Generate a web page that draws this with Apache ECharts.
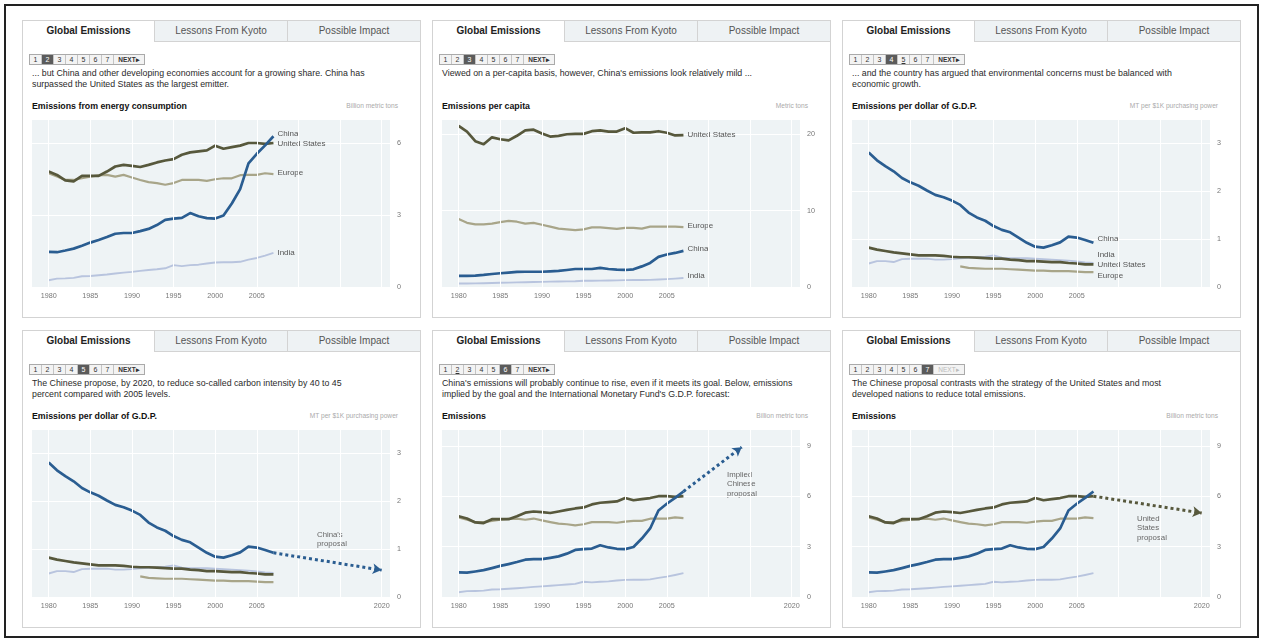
<!DOCTYPE html>
<html><head><meta charset="utf-8">
<script src="https://cdn.jsdelivr.net/npm/echarts@6/dist/echarts.min.js"></script>
<style>
html,body{margin:0;padding:0;background:#fff;}
body{width:1263px;height:642px;position:relative;overflow:hidden;font-family:"Liberation Sans",Arial,sans-serif;}
#frame{position:absolute;left:4px;top:4px;width:1255px;height:634px;border:2px solid #222;box-sizing:border-box;}
.panel{position:absolute;width:399px;height:298px;}
.body{position:absolute;left:0;top:21px;width:399px;height:277px;border:1px solid #d3d3d3;border-top:none;box-sizing:border-box;}
.tab{position:absolute;top:0;height:22px;box-sizing:border-box;border:1px solid #d3d3d3;border-left:none;font-size:10px;line-height:20px;text-align:center;color:#555;background:#eef2f4;}
.tab.first{border-left:1px solid #d3d3d3;}
.tab.active{background:#fff;border-bottom:none;color:#222;font-weight:bold;}
.pager{position:absolute;left:7px;top:34px;height:11px;border:1px solid #aaa;box-sizing:border-box;display:flex;background:#f3f3f3;}
.pager span{display:block;width:11px;height:9px;border-right:1px solid #c4c4c4;font-size:7px;line-height:9px;text-align:center;color:#333;}
.pager span.on{background:#5b5b5b;color:#fff;}
.pager span.u{text-decoration:underline;}
.pager span.next{width:30px;border-right:none;font-weight:bold;font-size:6.5px;}
.pager span.dis{color:#bbb;font-weight:normal;}
.txt{position:absolute;left:10px;top:48px;font-size:8.8px;line-height:10.5px;color:#2a2a2a;white-space:nowrap;}
.ttl{position:absolute;left:10px;top:80px;font-size:8.8px;line-height:12px;font-weight:bold;color:#111;}
.unit{position:absolute;right:23px;top:81px;font-size:6.6px;line-height:10px;color:#aaa;}
.chart{position:absolute;left:0;top:90px;width:399px;height:200px;}
</style></head>
<body>
<div id="frame"></div>
<div id="root"></div>
<script>
const years = [1980,1981,1982,1983,1984,1985,1986,1987,1988,1989,1990,1991,1992,1993,1994,1995,1996,1997,1998,1999,2000,2001,2002,2003,2004,2005,2006,2007];
const tabNames = ["Global Emissions","Lessons From Kyoto","Possible Impact"];
const pageLabels = ["1","2","3","4","5","6","7"];

// Emissions from energy consumption (billion metric tons)
const emChina  = [1.46,1.45,1.52,1.6,1.72,1.85,1.96,2.08,2.22,2.25,2.25,2.33,2.42,2.58,2.8,2.85,2.88,3.08,2.95,2.87,2.85,2.98,3.48,4.08,5.15,5.55,5.9,6.28];
const emUS     = [4.81,4.67,4.44,4.4,4.63,4.63,4.63,4.81,5.02,5.09,5.05,5.0,5.09,5.19,5.27,5.33,5.51,5.61,5.65,5.69,5.89,5.76,5.83,5.89,6.0,6.0,5.96,6.0];
const emEurope = [4.74,4.6,4.46,4.46,4.53,4.6,4.65,4.67,4.6,4.67,4.56,4.46,4.37,4.33,4.26,4.33,4.46,4.46,4.46,4.42,4.49,4.53,4.53,4.66,4.67,4.67,4.74,4.7];
const emIndia  = [0.28,0.35,0.36,0.38,0.45,0.46,0.49,0.52,0.56,0.6,0.63,0.67,0.71,0.74,0.78,0.91,0.87,0.91,0.93,0.98,1.02,1.03,1.03,1.05,1.14,1.21,1.31,1.42];

// Emissions per capita (metric tons)
const pcUS     = [21.1,20.35,19.1,18.7,19.6,19.35,19.2,19.8,20.5,20.6,20.1,19.7,19.8,20.0,20.05,20.05,20.4,20.5,20.35,20.35,20.8,20.2,20.25,20.25,20.4,20.2,19.85,19.9];
const pcEurope = [8.9,8.4,8.2,8.2,8.3,8.5,8.65,8.55,8.3,8.4,8.15,7.9,7.65,7.55,7.45,7.55,7.8,7.8,7.7,7.6,7.75,7.75,7.65,7.9,7.9,7.9,7.9,7.85];
const pcChina  = [1.45,1.45,1.5,1.58,1.7,1.8,1.88,1.97,2.0,2.0,2.0,2.05,2.1,2.23,2.36,2.36,2.36,2.5,2.36,2.28,2.23,2.32,2.7,3.15,3.94,4.25,4.46,4.73];
const pcIndia  = [0.45,0.46,0.48,0.5,0.52,0.55,0.57,0.6,0.62,0.65,0.67,0.7,0.72,0.74,0.76,0.82,0.81,0.83,0.85,0.87,0.9,0.91,0.91,0.93,0.98,1.03,1.1,1.18];

// Emissions per dollar of GDP (MT per $1K purchasing power)
const gdpChina  = [2.8,2.64,2.52,2.41,2.27,2.18,2.11,2.01,1.92,1.87,1.8,1.71,1.55,1.45,1.38,1.27,1.19,1.14,1.03,0.92,0.84,0.82,0.87,0.93,1.05,1.03,0.98,0.92];
const gdpUS     = [0.82,0.78,0.75,0.72,0.7,0.68,0.66,0.66,0.66,0.65,0.63,0.62,0.62,0.61,0.6,0.59,0.59,0.57,0.56,0.54,0.54,0.53,0.52,0.52,0.5,0.49,0.47,0.47];
const gdpEurope = [null,null,null,null,null,null,null,null,null,null,null,0.43,0.4,0.39,0.38,0.38,0.38,0.37,0.36,0.35,0.34,0.34,0.33,0.33,0.33,0.32,0.31,0.31];
const gdpIndia  = [0.49,0.54,0.54,0.52,0.58,0.59,0.59,0.59,0.57,0.57,0.58,0.6,0.61,0.62,0.63,0.66,0.61,0.6,0.6,0.6,0.59,0.58,0.57,0.56,0.55,0.53,0.51,0.5];

// Projections
const chinaIntensityProposal = [[2007,0.92],[2020,0.56]];
const chinaImpliedProposal   = [[2007,6.28],[2014,8.92]];
const usProposal             = [[2007,6.0],[2020,5.0]];

// Axis tick labels
const xLabelsHist = [1980,1985,1990,1995,2000,2005];
const xLabelsProj = [1980,1985,1990,1995,2000,2005,2020];
const xGridLines  = [1980,1985,1990,1995,2000,2005,2010,2015,2020];
const yLabelsEm  = [0,3,6];
const yLabelsEm9 = [0,3,6,9];
const yLabelsPc  = [0,10,20];
const yLabelsGdp = [0,1,2,3];

const C = {China:'#2a5d91', US:'#57583c', Europe:'#a8a589', India:'#b8c4de'};

const panels = [
 {x:22,y:20,page:2,text:"... but China and other developing economies account for a growing share. China has<br>surpassed the United States as the largest emitter.",
  title:"Emissions from energy consumption",unit:"Billion metric tons",yMax:7,yInt:3,yLabels:yLabelsEm,xLabels:xLabelsHist,labels:true,
  lines:[["India",emIndia,[0,0]],["Europe",emEurope,[0,-1]],["United States",emUS,[0,1]],["China",emChina,[0,-2]]]},
 {x:432,y:20,page:3,text:"Viewed on a per-capita basis, however, China's emissions look relatively mild ...",
  title:"Emissions per capita",unit:"Metric tons",yMax:22,yInt:10,yLabels:yLabelsPc,xLabels:xLabelsHist,labels:true,
  lines:[["India",pcIndia,[0,-2]],["Europe",pcEurope,[0,-1]],["United States",pcUS,[0,0]],["China",pcChina,[0,-2]]]},
 {x:842,y:20,page:4,under:5,text:"... and the country has argued that environmental concerns must be balanced with<br>economic growth.",
  title:"Emissions per dollar of G.D.P.",unit:"MT per $1K purchasing power",yMax:3.5,yInt:1,yLabels:yLabelsGdp,xLabels:xLabelsHist,labels:true,
  lines:[["India",gdpIndia,[0,-8]],["Europe",gdpEurope,[0,4]],["United States",gdpUS,[0,0]],["China",gdpChina,[0,-4]]]},
 {x:22,y:330,page:5,text:"The Chinese propose, by 2020, to reduce so-called carbon intensity by 40 to 45<br>percent compared with 2005 levels.",
  title:"Emissions per dollar of G.D.P.",unit:"MT per $1K purchasing power",yMax:3.5,yInt:1,yLabels:yLabelsGdp,xLabels:xLabelsProj,labels:false,
  lines:[["India",gdpIndia],["Europe",gdpEurope],["United States",gdpUS],["China",gdpChina]],
  proj:{data:chinaIntensityProposal,color:C.China},note:{text:"China's\nproposal",top:110}},
 {x:432,y:330,page:6,under:2,text:"China's emissions will probably continue to rise, even if it meets its goal. Below, emissions<br>implied by the goal and the International Monetary Fund's G.D.P. forecast:",
  title:"Emissions",unit:"Billion metric tons",yMax:10,yInt:3,yLabels:yLabelsEm9,xLabels:xLabelsProj,labels:false,
  lines:[["India",emIndia],["Europe",emEurope],["United States",emUS],["China",emChina]],
  proj:{data:chinaImpliedProposal,color:C.China},note:{text:"Implied\nChinese\nproposal",top:50}},
 {x:842,y:330,page:7,last:true,text:"The Chinese proposal contrasts with the strategy of the United States and most<br>developed nations to reduce total emissions.",
  title:"Emissions",unit:"Billion metric tons",yMax:10,yInt:3,yLabels:yLabelsEm9,xLabels:xLabelsProj,labels:false,
  lines:[["India",emIndia],["Europe",emEurope],["United States",emUS],["China",emChina]],
  proj:{data:usProposal,color:C.US},note:{text:"United\nStates\nproposal",top:94}}
];

const colorOf = n => n==="United States"?C.US:C[n];
const widthOf = n => (n==="China"||n==="United States")?2.7:(n==="Europe"?2.2:1.9);

const root = document.getElementById('root');
panels.forEach((p,idx)=>{
  const d = document.createElement('div');
  d.className='panel'; d.style.left=p.x+'px'; d.style.top=p.y+'px';
  let h = '';
  h += '<div class="body"></div>';
  const tw=[133,133,133];
  let lx=0;
  tabNames.forEach((t,i)=>{
    h += `<div class="tab${i===0?' active first':''}" style="left:${lx}px;width:${tw[i]}px">${t}</div>`;
    lx+=tw[i];
  });
  h += '<div class="pager">';
  pageLabels.forEach(pl=>{
    const n=+pl;
    h += `<span class="${n===p.page?'on':''}${n===p.under?' u':''}">${pl}</span>`;
  });
  h += `<span class="next${p.last?' dis':''}">NEXT&#9656;</span></div>`;
  h += `<div class="txt">${p.text}</div>`;
  h += `<div class="ttl">${p.title}</div><div class="unit">${p.unit}</div>`;
  h += `<div class="chart" id="c${idx}"></div>`;
  d.innerHTML=h;
  root.appendChild(d);

  const chart = echarts.init(document.getElementById('c'+idx), null, {renderer:'canvas'});
  const series = [];
  series.push({type:'line',data:[[1978,null]],symbol:'none',silent:true,z:1,
    markLine:{silent:true,symbol:'none',animation:false,label:{show:false},
      lineStyle:{color:'#ffffff',width:1,type:'solid'},data:xGridLines.map(v=>({xAxis:v}))}});
  p.lines.forEach(([name,vals,off])=>{
    const col = colorOf(name);
    series.push({type:'line',name:name,data:years.map((y,i)=>[y,vals[i]]),symbol:'none',showSymbol:false,
      silent:true,z:3,lineStyle:{color:col,width:widthOf(name),join:'round'},itemStyle:{color:col},
      endLabel:{show:p.labels,formatter:'{a}',color:'#555',fontSize:8,distance:4,offset:off||[0,0],
        fontFamily:'"Liberation Sans", Arial, sans-serif'}});
  });
  if(p.proj){
    series.push({type:'line',data:[[1978,null]],symbol:'none',silent:true,z:4,
      markLine:{silent:true,animation:false,symbol:['none','arrow'],symbolSize:[8,9],label:{show:false},
        lineStyle:{color:p.proj.color,width:3,type:'dotted'},itemStyle:{color:p.proj.color},
        data:[[{coord:p.proj.data[0]},{coord:p.proj.data[1]}]]}});
  }
  const opt = {
    animation:false,
    grid:{left:10,top:9,width:358,height:168,show:true,backgroundColor:'#eef3f5',borderWidth:0},
    xAxis:{type:'value',min:1978,max:2021,interval:1,axisLine:{show:false},axisTick:{show:false},splitLine:{show:false},
      axisLabel:{color:'#777',fontSize:7.2,margin:6,hideOverlap:false,fontFamily:'"Liberation Sans", Arial, sans-serif',
        formatter:v=>p.xLabels.includes(v)?String(v):''}},
    yAxis:{type:'value',position:'right',min:0,max:p.yMax,interval:p.yInt,axisLine:{show:false},axisTick:{show:false},
      splitLine:{lineStyle:{color:'#ffffff',width:1}},
      axisLabel:{color:'#777',fontSize:7.2,margin:7,align:'left',fontFamily:'"Liberation Sans", Arial, sans-serif',
        formatter:v=>p.yLabels.includes(v)?String(v):''}},
    series:series
  };
  if(p.note){
    opt.graphic=[{type:'text',left:295,top:p.note.top,silent:true,
      style:{text:p.note.text,fill:'#666',font:'7.8px "Liberation Sans", Arial, sans-serif',lineHeight:9.5}}];
  }
  chart.setOption(opt);
});
</script>
</body></html>
